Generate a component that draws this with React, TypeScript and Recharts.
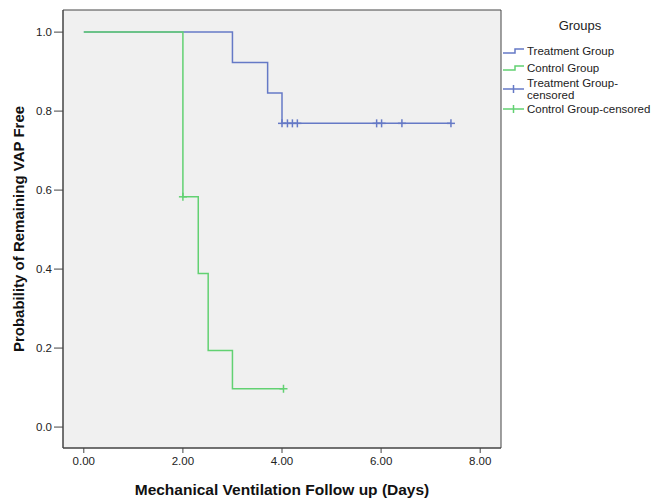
import {
  ComposedChart,
  Line,
  Scatter,
  XAxis,
  YAxis,
  CartesianGrid,
  ReferenceArea,
} from "recharts";

// Kaplan-Meier step points (time in days, survival probability)
const treatmentTimes = [0, 3.0, 3.71, 4.0, 7.41];
const treatmentSurvival = [1.0, 0.923, 0.846, 0.769, 0.769];
const controlTimes = [0, 2.0, 2.31, 2.51, 3.0, 4.03];
const controlSurvival = [1.0, 0.583, 0.389, 0.194, 0.097, 0.097];

const treatmentCensorTimes = [4.0, 4.11, 4.21, 4.31, 5.91, 6.01, 6.42, 7.41];
const treatmentCensorSurvival = [0.769, 0.769, 0.769, 0.769, 0.769, 0.769, 0.769, 0.769];
const controlCensorTimes = [2.0, 4.03];
const controlCensorSurvival = [0.583, 0.097];

const xTicks = [0, 2, 4, 6, 8];
const yTicks = [0, 0.2, 0.4, 0.6, 0.8, 1.0];
const legendTitle = "Groups";
const legendLabels = ["Treatment Group", "Control Group", "Treatment Group-\ncensored", "Control Group-censored"];

const BLUE = "#6579c6";
const GREEN = "#62d172";
const FONT = "'Liberation Sans', Arial, sans-serif";
const X_DOMAIN: [number, number] = [-0.42, 8.42];
const Y_DOMAIN: [number, number] = [-0.053, 1.056];

const zip = (ts: number[], ss: number[]) => ts.map((t, i) => ({ t, s: ss[i] }));

const treatmentData = zip(treatmentTimes, treatmentSurvival);
const controlData = zip(controlTimes, controlSurvival);
const treatmentCensor = zip(treatmentCensorTimes, treatmentCensorSurvival);
const controlCensor = zip(controlCensorTimes, controlCensorSurvival);

function Plus(color: string) {
  return (props: any) => {
    const { cx, cy } = props;
    return (
      <g stroke={color} strokeWidth={1.5}>
        <line x1={cx - 4} x2={cx + 4} y1={cy} y2={cy} />
        <line x1={cx} x2={cx} y1={cy - 4} y2={cy + 4} />
      </g>
    );
  };
}

function LegendBox() {
  const colors = [BLUE, GREEN, BLUE, GREEN];
  const rows = [51, 68, 89, 109];
  return (
    <svg
      width={153}
      height={130}
      style={{ position: "absolute", left: 500, top: 0, display: "block", overflow: "visible" }}
    >
      <text x={80} y={30} textAnchor="middle" fontFamily={FONT} fontSize={13} fill="#222">
        {legendTitle}
      </text>
      {legendLabels.map((label, i) => {
        const y = rows[i];
        const c = colors[i];
        const lines = label.split("\n");
        return (
          <g key={label}>
            {i < 2 ? (
              <path d={`M3,${y + 2}H15V${y - 2}H24`} fill="none" stroke={c} strokeWidth={1.5} />
            ) : (
              <g stroke={c} strokeWidth={1.5}>
                <line x1={3} x2={24} y1={y} y2={y} />
                <line x1={13.5} x2={13.5} y1={y - 4} y2={y + 4} />
              </g>
            )}
            {lines.map((ln, j) => (
              <text
                key={j}
                x={27}
                y={y + 4 + (j - (lines.length - 1) / 2) * 12}
                fontFamily={FONT}
                fontSize={11.5}
                fill="#222"
              >
                {ln}
              </text>
            ))}
          </g>
        );
      })}
    </svg>
  );
}

export default function App() {
  return (
    <div style={{ position: "absolute", left: 0, top: 0, width: 653, height: 500, background: "#fff" }}>
      <ComposedChart width={653} height={500} margin={{ top: 10, right: 152, bottom: 22, left: 33 }}>
        <CartesianGrid horizontal={false} vertical={false} fill="#f0f0f0" />
        <XAxis
          type="number"
          dataKey="t"
          domain={X_DOMAIN}
          ticks={xTicks}
          allowDataOverflow
          tickFormatter={(v: number) => v.toFixed(2)}
          tick={{ fill: "#222", fontSize: 11.5, fontFamily: FONT }}
          tickSize={5}
          tickMargin={4}
          height={30}
          axisLine={{ stroke: "#444" }}
          tickLine={{ stroke: "#444" }}
          label={{
            value: "Mechanical Ventilation Follow up (Days)",
            position: "insideBottom",
            offset: -17,
            style: { fontFamily: FONT, fontSize: 15.5, fontWeight: "bold", fill: "#111" },
          }}
        />
        <YAxis
          type="number"
          dataKey="s"
          domain={Y_DOMAIN}
          ticks={yTicks}
          allowDataOverflow
          tickFormatter={(v: number) => v.toFixed(1)}
          tick={{ fill: "#222", fontSize: 11.5, fontFamily: FONT }}
          tickSize={9}
          tickMargin={2}
          width={30}
          axisLine={{ stroke: "#444" }}
          tickLine={{ stroke: "#444" }}
          label={{
            value: "Probability of Remaining VAP Free",
            angle: -90,
            position: "insideLeft",
            offset: -14,
            style: { textAnchor: "middle", fontFamily: FONT, fontSize: 15, fontWeight: "bold", fill: "#111" },
          }}
        />
        <ReferenceArea
          x1={X_DOMAIN[0]}
          x2={X_DOMAIN[1]}
          y1={Y_DOMAIN[0]}
          y2={Y_DOMAIN[1]}
          fill="none"
          stroke="#444"
          strokeWidth={1}
          ifOverflow="extendDomain"
        />
        <Line
          data={treatmentData}
          dataKey="s"
          type="stepAfter"
          stroke={BLUE}
          strokeWidth={1.5}
          dot={false}
          isAnimationActive={false}
        />
        <Line
          data={controlData}
          dataKey="s"
          type="stepAfter"
          stroke={GREEN}
          strokeWidth={1.5}
          dot={false}
          isAnimationActive={false}
        />
        <Scatter data={treatmentCensor} dataKey="s" shape={Plus(BLUE)} isAnimationActive={false} />
        <Scatter data={controlCensor} dataKey="s" shape={Plus(GREEN)} isAnimationActive={false} />
      </ComposedChart>
      <LegendBox />
    </div>
  );
}
